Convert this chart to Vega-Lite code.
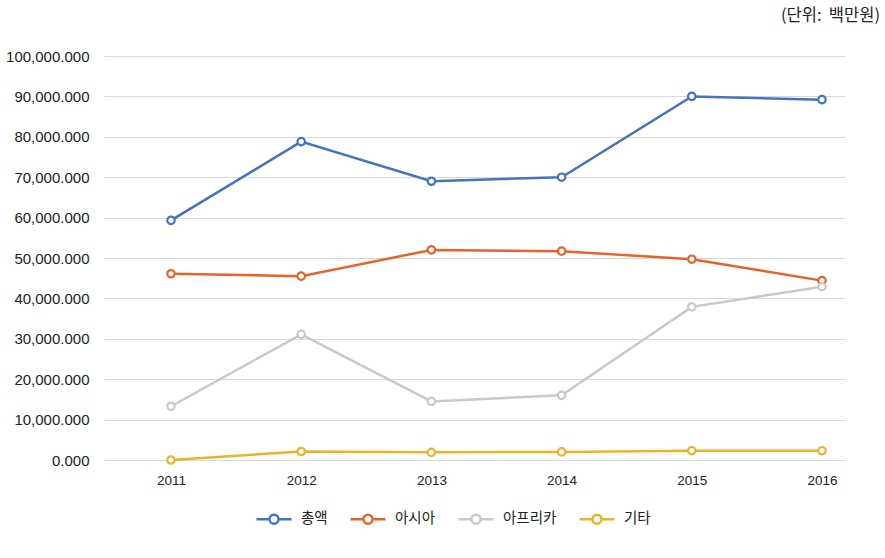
{
  "$schema": "https://vega.github.io/schema/vega-lite/v6.json",
  "width": 741,
  "height": 404,
  "autosize": {"type": "none"},
  "padding": {"left": 104, "top": 56, "right": 40, "bottom": 98},
  "background": "white",
  "config": {"view": {"stroke": null}},
  "title": {"text": "(단위:\u00a0 백만원)", "anchor": "end", "dx": 35, "offset": 25, "fontSize": 16.5, "font": "Noto Sans CJK KR", "fontWeight": "normal", "color": "#222"},
  "data": {"values": [
    {"series": "총액", "year": 2011, "value": 59300},
    {"series": "총액", "year": 2012, "value": 78800},
    {"series": "총액", "year": 2013, "value": 69000},
    {"series": "총액", "year": 2014, "value": 70000},
    {"series": "총액", "year": 2015, "value": 90000},
    {"series": "총액", "year": 2016, "value": 89200},
    {"series": "아시아", "year": 2011, "value": 46100},
    {"series": "아시아", "year": 2012, "value": 45500},
    {"series": "아시아", "year": 2013, "value": 52000},
    {"series": "아시아", "year": 2014, "value": 51700},
    {"series": "아시아", "year": 2015, "value": 49700},
    {"series": "아시아", "year": 2016, "value": 44400},
    {"series": "아프리카", "year": 2011, "value": 13300},
    {"series": "아프리카", "year": 2012, "value": 31100},
    {"series": "아프리카", "year": 2013, "value": 14500},
    {"series": "아프리카", "year": 2014, "value": 16000},
    {"series": "아프리카", "year": 2015, "value": 37900},
    {"series": "아프리카", "year": 2016, "value": 42900},
    {"series": "기타", "year": 2011, "value": 0},
    {"series": "기타", "year": 2012, "value": 2100},
    {"series": "기타", "year": 2013, "value": 1900},
    {"series": "기타", "year": 2014, "value": 2000},
    {"series": "기타", "year": 2015, "value": 2300},
    {"series": "기타", "year": 2016, "value": 2300}
  ]},
  "mark": {"type": "line", "strokeWidth": 2.5, "point": {"filled": false, "fill": "white", "size": 55, "strokeWidth": 2.2}},
  "encoding": {
    "x": {"field": "year", "type": "quantitative", "scale": {"domain": [2010.4854, 2016.1767], "nice": false, "zero": false},
      "axis": {"title": null, "values": [2011, 2012, 2013, 2014, 2015, 2016], "format": "d", "labelAngle": 0, "domain": false, "ticks": false, "grid": false, "labelPadding": 13, "labelFontSize": 13.5, "labelColor": "#222", "labelFont": "Liberation Sans"}},
    "y": {"field": "value", "type": "quantitative", "scale": {"domain": [0, 100000], "nice": false},
      "axis": {"title": null, "values": [0, 10000, 20000, 30000, 40000, 50000, 60000, 70000, 80000, 90000, 100000], "format": ",.3f", "domain": false, "ticks": false, "gridColor": "#d9d9d9", "gridWidth": 1, "labelPadding": 15, "labelFontSize": 15, "labelColor": "#222", "labelFont": "Liberation Sans"}},
    "color": {"field": "series", "type": "nominal",
      "scale": {"domain": ["총액", "아시아", "아프리카", "기타"], "range": ["#4472C4", "#E8622A", "#C9C9C9", "#EDB22B"]},
      "legend": {"title": null, "orient": "none", "direction": "horizontal", "legendX": 151, "legendY": 444,
        "symbolType": "M-1,0L-0.26,0M0.26,0L1,0M-0.26,0A0.26,0.26 0 1,1 0.26,0A0.26,0.26 0 1,1 -0.26,0",
        "symbolSize": 1225, "symbolStrokeWidth": 2.5, "symbolFillColor": "white",
        "labelFontSize": 14.5, "labelFont": "Noto Sans CJK KR", "labelColor": "#222", "labelOffset": 8, "columnPadding": 17}},
    "order": {"field": "year"}
  }
}
